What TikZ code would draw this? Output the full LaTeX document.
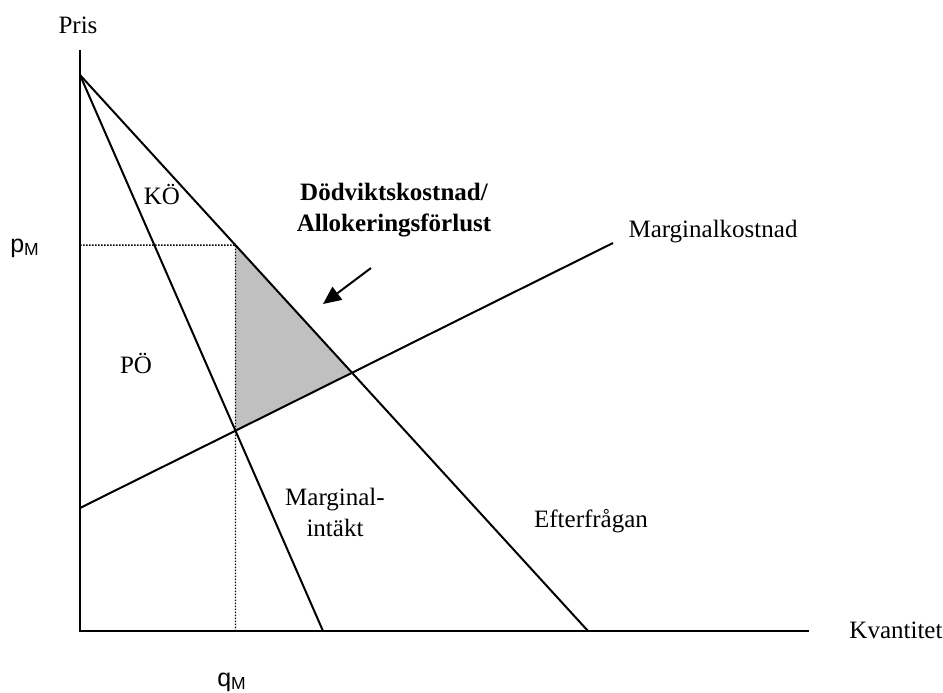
\documentclass[tikz,border=0pt]{standalone}
\usepackage{fontspec}
\setmainfont{Liberation Serif}
\setsansfont{Liberation Sans}
\usetikzlibrary{arrows.meta}
\definecolor{dwlgray}{RGB}{192,192,192}

\begin{document}
\begin{tikzpicture}[x=0.5pt,y=-0.5pt,
	axis/.style={line width=1.3pt,black},
	curve/.style={line width=1pt,black},
	helper/.style={dash pattern=on 0.75pt off 0.75pt,line width=0.7pt},
	pointer/.style={line width=1pt,-{Triangle[length=9pt,width=8pt]}},
	lbl/.style={inner sep=0pt,font=\fontsize{12.5}{15.5}\selectfont}]
	\useasboundingbox (0,0) rectangle (943,692);
	% Points
	\coordinate (top) at (80,50);
	\coordinate (O) at (80,631);
	\coordinate (xend) at (809,631);
	\coordinate (choke) at (80,75);
	\coordinate (dem) at (588,631);
	\coordinate (mr) at (323,631);
	\coordinate (mc0) at (80,508);
	\coordinate (mc1) at (613,243);
	\coordinate (M) at (intersection of mc0--mc1 and choke--mr);
	\coordinate (E) at (intersection of mc0--mc1 and choke--dem);
	\coordinate (qMx) at (M |- O);
	\coordinate (P) at (intersection of choke--dem and M--qMx);
	\coordinate (pMy) at (P -| O);
	\coordinate (dwt) at (371,268);
	\coordinate (dwh) at (323,304);
	% Deadweight loss
	\fill[dwlgray] (P) -- (M) -- (E) -- cycle;
	\draw[helper] (pMy) -- (P) -- (qMx);
	% Curves
	\draw[axis] (top) -- (O) -- (xend);
	\draw[curve] (choke) -- (dem);
	\draw[curve] (choke) -- (mr);
	\draw[curve] (mc0) -- (mc1);
	\draw[pointer] (dwt) -- (dwh);
	% Labels
	\node[lbl] (pris) at (78,25) {Pris};
	\node[lbl] (kvant) at (896,630) {Kvantitet};
	\node[lbl,font=\fontsize{12.5}{15.5}\sffamily] (pm) at (25,248) {p\textsubscript{M}};
	\node[lbl,font=\fontsize{12.5}{15.5}\sffamily] (qm) at (232,682) {q\textsubscript{M}};
	\node[lbl] (ko) at (162,194) {KÖ};
	\node[lbl] (po) at (136,363) {PÖ};
	\node[lbl,align=center,font=\fontsize{12.5}{15.5}\selectfont\bfseries] (dwl) at (394,210) {Dödviktskostnad/\\Allokeringsförlust};
	\node[lbl] (mclbl) at (713,232) {Marginalkostnad};
	\node[lbl,align=center] (mrlbl) at (335,512) {Marginal-\\intäkt};
	\node[lbl] (dlbl) at (591,521) {Efterfrågan};
\end{tikzpicture}
\end{document}
